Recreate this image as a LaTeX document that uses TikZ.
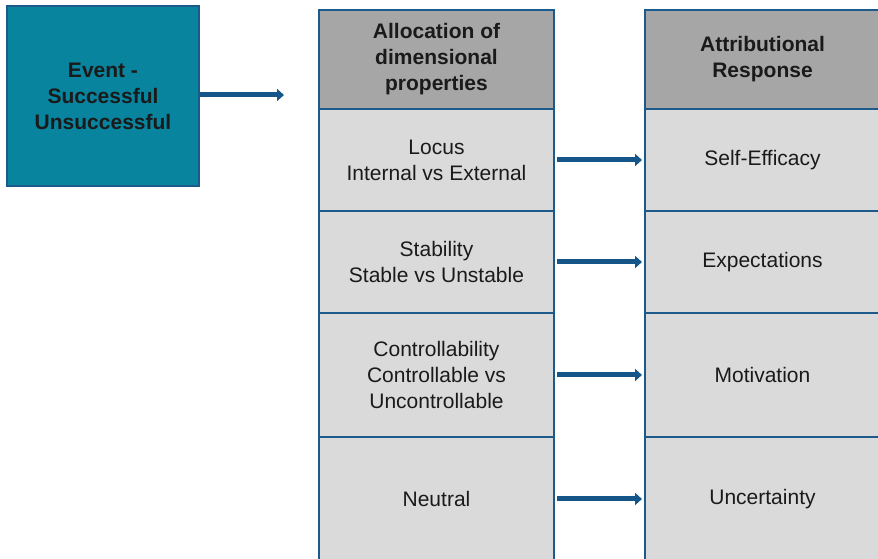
\documentclass[tikz,border=0pt]{standalone}
\usepackage{fontspec}
\setmainfont{Liberation Sans}
\usetikzlibrary{arrows.meta}
\definecolor{edgeblue}{HTML}{1D5A8C}
\definecolor{arrowblue}{HTML}{14568A}
\definecolor{teal}{HTML}{08849E}
\definecolor{headgray}{HTML}{A6A6A6}
\definecolor{cellgray}{HTML}{DADADA}
\definecolor{ink}{HTML}{1A1A1A}
\begin{document}
\begin{tikzpicture}[x=1pt,y=1pt,
  box/.style={draw=edgeblue, line width=2pt, rectangle, align=center,
    text=ink, font=\fontsize{21}{26}\selectfont, inner sep=0pt},
  eventbox/.style={box, fill=teal, minimum width=192, minimum height=180,
    font=\fontsize{21}{26}\selectfont\bfseries},
  headcell/.style={box, fill=headgray, minimum width=235, minimum height=99,
    font=\fontsize{21}{26}\selectfont\bfseries},
  cell/.style={box, fill=cellgray, minimum width=235},
  flow/.style={draw=arrowblue, line width=5pt,
    -{Triangle[length=7pt,width=12pt]}, shorten <=2pt, shorten >=2pt}]
\useasboundingbox (0,0) rectangle (878,559);
\clip (0,0) rectangle (878,559);

% initiating event
\node[eventbox] (event) at (103,463) {Event -\\Successful\\Unsuccessful};
\coordinate (evend) at (286,464);

% dimensional properties column
\node[headcell] (lh) at (436.5,499.5) {Allocation of\\dimensional\\properties};
\node[cell, minimum height=102] (l1) at (436.5,399) {Locus\\Internal vs External};
\node[cell, minimum height=102] (l2) at (436.5,297) {Stability\\Stable vs Unstable};
\node[cell, minimum height=124] (l3) at (436.5,184) {Controllability\\Controllable vs\\Uncontrollable};
\node[cell, minimum height=124] (l4) at (436.5,60) {Neutral};

% attributional response column
\node[headcell] (rh) at (762.5,499.5) {Attributional\\Response};
\node[cell, minimum height=102] (r1) at (762.5,399) {Self-Efficacy};
\node[cell, minimum height=102] (r2) at (762.5,297) {Expectations};
\node[cell, minimum height=124] (r3) at (762.5,184) {Motivation};
\node[cell, minimum height=124] (r4) at (762.5,60) {Uncertainty};

% connectors
\draw[flow, shorten <=0pt] (event.east |- evend) -- (evend);
\draw[flow] (l1) -- (r1);
\draw[flow] (l2) -- (r2);
\draw[flow] (l3) -- (r3);
\draw[flow] (l4) -- (r4);
\end{tikzpicture}
\end{document}
